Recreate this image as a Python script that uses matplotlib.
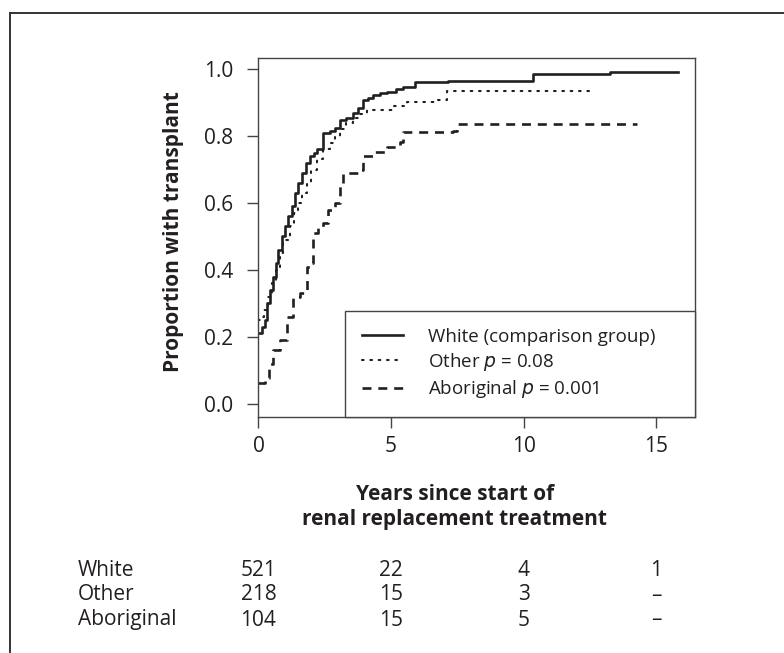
import matplotlib
matplotlib.use("Agg")
import matplotlib.pyplot as plt
from matplotlib.lines import Line2D
from matplotlib.transforms import blended_transform_factory

plt.rcParams["font.family"] = ["Open Sans", "DejaVu Sans"]

# Kaplan-Meier style step curves
white_t = [0, 0.03, 0.12, 0.25, 0.33, 0.45, 0.56, 0.65, 0.75, 0.88, 1.0, 1.12, 1.25, 1.38,
           1.5, 1.63, 1.78, 1.94, 2.08, 2.2, 2.45, 2.7, 2.89, 3.08, 3.3, 3.58, 3.75, 3.95,
           4.15, 4.33, 4.6, 4.84, 5.2, 5.47, 5.9, 7.16, 10.35, 13.26, 15.84]
white_p = [0.211, 0.211, 0.23, 0.25, 0.30, 0.34, 0.38, 0.42, 0.46, 0.50, 0.53, 0.56, 0.59, 0.63,
           0.66, 0.69, 0.72, 0.74, 0.75, 0.76, 0.81, 0.815, 0.823, 0.848, 0.855, 0.868, 0.885,
           0.907, 0.915, 0.922, 0.928, 0.932, 0.94, 0.947, 0.960, 0.964, 0.984, 0.992, 0.992]

other_t = [0, 0.06, 0.2, 0.35, 0.5, 0.65, 0.8, 0.94, 1.19, 1.35, 1.5, 1.65, 1.82, 2.0, 2.2,
           2.45, 2.7, 2.9, 3.08, 3.3, 3.58, 3.8, 4.08, 5.09, 5.59, 6.72, 7.1, 12.57]
other_p = [0.25, 0.26, 0.28, 0.32, 0.36, 0.40, 0.45, 0.49, 0.53, 0.57, 0.60, 0.63, 0.66, 0.70,
           0.73, 0.76, 0.78, 0.80, 0.82, 0.84, 0.853, 0.865, 0.878, 0.89, 0.902, 0.907, 0.935,
           0.935]

abor_t = [0, 0.25, 0.4, 0.56, 0.81, 1.06, 1.31, 1.57, 1.82, 2.0, 2.07, 2.25, 2.45, 2.63, 2.89,
          3.08, 3.2, 3.83, 3.95, 4.33, 4.84, 5.34, 5.47, 7.35, 7.48, 14.27]
abor_p = [0.062, 0.077, 0.12, 0.16, 0.19, 0.26, 0.32, 0.33, 0.41, 0.42, 0.51, 0.525, 0.54, 0.58,
          0.60, 0.65, 0.69, 0.70, 0.74, 0.753, 0.768, 0.783, 0.813, 0.816, 0.836, 0.836]

labels = ["White (comparison group)", "Other $\\it{p}$ = 0.08", "Aboriginal $\\it{p}$ = 0.001"]

# numbers at risk
risk_years = [0, 5, 10, 15]
risk_groups = ["White", "Other", "Aboriginal"]
risk_white = ["521", "22", "4", "1"]
risk_other = ["218", "15", "3", "\u2013"]
risk_abor = ["104", "15", "5", "\u2013"]

ink = "#231f20"
fs = 15

fig = plt.figure(figsize=(7.84, 6.53), dpi=100)
ax = fig.add_axes([0.3297, 0.3614, 0.5568, 0.5498])

ax.plot(white_t, white_p, drawstyle="steps-post", color=ink, lw=1.9, label=labels[0])
ax.plot(other_t, other_p, drawstyle="steps-post", color=ink, lw=1.5,
        dashes=(0.8, 3.2), dash_capstyle="round", label=labels[1])
ax.plot(abor_t, abor_p, drawstyle="steps-post", color=ink, lw=1.9,
        dashes=(3.4, 2.6), label=labels[2])

ax.set_xlim(0, 16.47)
ax.set_ylim(-0.039, 1.033)
ax.set_xticks(risk_years)
ax.set_yticks([0, 0.2, 0.4, 0.6, 0.8, 1.0])
ax.set_yticklabels(["0.0", "0.2", "0.4", "0.6", "0.8", "1.0"])
ax.tick_params(axis="both", length=8, width=1.0, color="#444444", labelsize=fs,
               labelcolor=ink)
ax.tick_params(axis="y", pad=10)
ax.tick_params(axis="x", pad=6)
for s in ax.spines.values():
    s.set_linewidth(1.0)
    s.set_color("#444444")

leg = ax.legend(loc="lower left", bbox_to_anchor=(0.198, 0, 0.802, 0.3), mode="expand",
                borderaxespad=0, fancybox=False, edgecolor="#444444", framealpha=1,
                fontsize=13.5, handlelength=2.2, handletextpad=1.35, labelspacing=0.28,
                borderpad=0.9)
leg.get_frame().set_linewidth(1.0)
for t in leg.get_texts():
    t.set_color(ink)

fig.text(173 / 784, 1 - 232 / 653, "Proportion with transplant", rotation=90, ha="center",
         va="center", fontsize=fs, fontweight="bold", color=ink)

bt = blended_transform_factory(ax.transData, fig.transFigure)
ax.text(7.4, 1 - 494 / 653, "Years since start of", transform=bt, ha="center", va="center",
        fontsize=fs, fontweight="bold", color=ink)
ax.text(7.4, 1 - 520 / 653, "renal replacement treatment", transform=bt, ha="center",
        va="center", fontsize=fs, fontweight="bold", color=ink)

rows = [risk_white, risk_other, risk_abor]
row_y = [570, 595, 620]
for name, vals, yp in zip(risk_groups, rows, row_y):
    fig.text(78 / 784, 1 - yp / 653, name, ha="left", va="center", fontsize=fs, color=ink)
    for xv, v in zip(risk_years, vals):
        ax.text(xv, 1 - yp / 653, v, transform=bt, ha="center", va="center",
                fontsize=fs, color=ink)

# outer panel frame (left and top edges)
fig.add_artist(Line2D([10 / 784, 10 / 784], [0, 1 - 13 / 653], transform=fig.transFigure,
                      color="#333333", lw=1.4))
fig.add_artist(Line2D([10 / 784, 1], [1 - 13 / 653, 1 - 13 / 653], transform=fig.transFigure,
                      color="#333333", lw=1.4))

fig.savefig("out.png", dpi=100)
